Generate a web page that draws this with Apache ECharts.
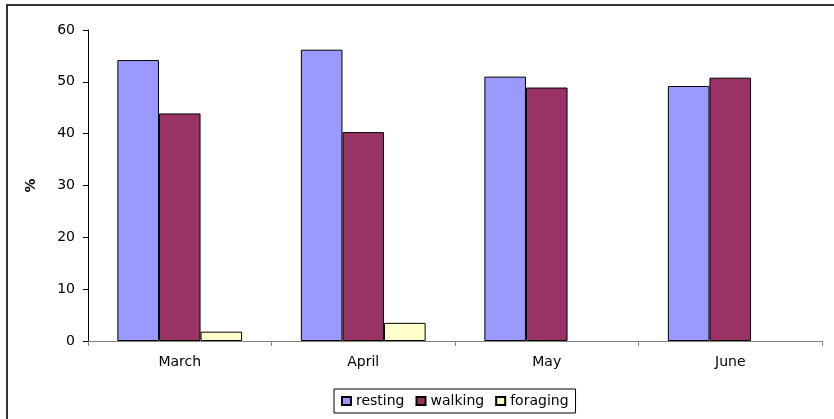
<!DOCTYPE html>
<html>
<head>
<meta charset="utf-8">
<script src="https://cdn.jsdelivr.net/npm/echarts@6/dist/echarts.min.js"></script>
<style>
html, body { margin: 0; padding: 0; background: #fff; }
#chart { width: 834px; height: 419px; }
</style>
</head>
<body>
<div id="chart"></div>
<script>
var months = ['March', 'April', 'May', 'June'];
var resting = [54.2, 56.2, 51.0, 49.2];
var walking = [43.9, 40.3, 48.9, 50.8];
var foraging = [1.8, 3.5, null, null];
var yTicks = { min: 0, max: 60, step: 10 };

var fnt = 'DejaVu Sans';

function barSeries(name, data, color) {
    return {
        name: name,
        type: 'bar',
        data: data,
        barGap: 0,
        barCategoryGap: '32%',
        itemStyle: { color: color, borderColor: '#000', borderWidth: 1 }
    };
}

var myChart = echarts.init(document.getElementById('chart'));
var option = {
    animation: false,
    backgroundColor: '#fff',
    graphic: [{
        type: 'rect',
        shape: { x: 7, y: 5, width: 1000, height: 1000 },
        style: { fill: 'none', stroke: '#333', lineWidth: 2 },
        silent: true
    }],
    grid: { left: 88, right: 12, top: 30, bottom: 78 },
    legend: {
        left: 334,
        top: 389,
        itemWidth: 9,
        itemHeight: 8,
        itemGap: 11,
        icon: 'rect',
        padding: [5, 7],
        borderColor: '#000',
        borderWidth: 1,
        textStyle: { fontFamily: fnt, fontSize: 14, color: '#000' }
    },
    xAxis: {
        type: 'category',
        data: months,
        axisLine: { lineStyle: { color: '#808080', width: 1 } },
        axisTick: { show: true, length: 5, lineStyle: { color: '#808080' } },
        axisLabel: { fontFamily: fnt, fontSize: 14, color: '#000', margin: 14 },
        splitLine: { show: false }
    },
    yAxis: {
        type: 'value',
        min: yTicks.min,
        max: yTicks.max,
        interval: yTicks.step,
        name: '%',
        nameLocation: 'middle',
        nameGap: 50,
        nameTextStyle: { fontFamily: fnt, fontSize: 14, fontWeight: 'bold', color: '#000' },
        axisLine: { show: true, lineStyle: { color: '#000', width: 1 } },
        axisTick: { show: true, length: 5, lineStyle: { color: '#000' } },
        axisLabel: { fontFamily: fnt, fontSize: 14, color: '#000', margin: 13 },
        splitLine: { show: false }
    },
    series: [
        barSeries('resting', resting, '#9999FF'),
        barSeries('walking', walking, '#993366'),
        barSeries('foraging', foraging, '#FFFFCC')
    ]
};
myChart.setOption(option);
</script>
</body>
</html>
